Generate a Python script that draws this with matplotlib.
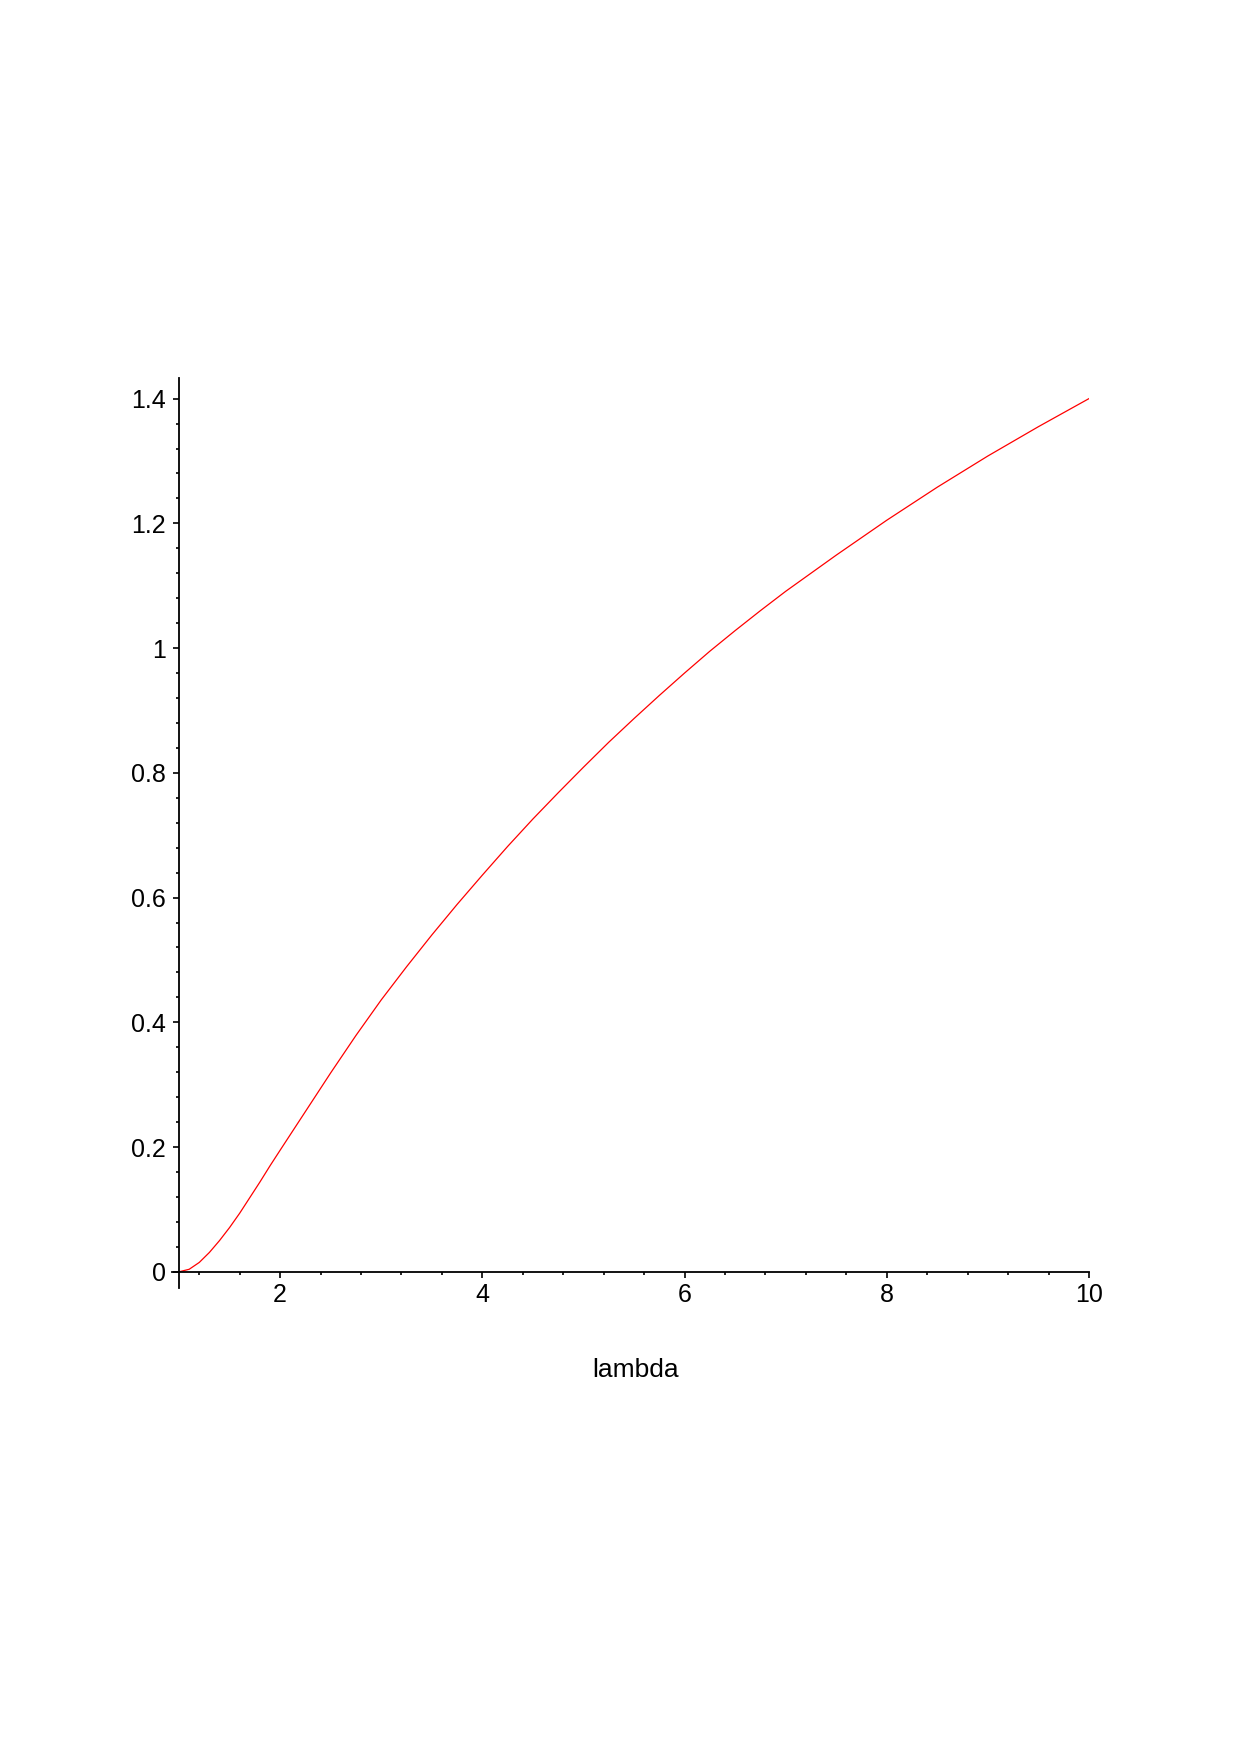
import numpy as np
import matplotlib.pyplot as plt
from matplotlib.ticker import MultipleLocator, FixedLocator

plt.rcParams['font.family'] = ['Liberation Sans', 'DejaVu Sans']

## curve values
lam = [1.0, 1.1, 1.2, 1.3, 1.4, 1.5, 1.6, 1.7, 1.8, 1.9, 2.0,
       2.25, 2.5, 2.75, 3.0, 3.25, 3.5, 3.75, 4.0, 4.25, 4.5, 4.75,
       5.0, 5.25, 5.5, 5.75, 6.0, 6.25, 6.5, 6.75, 7.0, 7.5, 8.0,
       8.5, 9.0, 9.5, 10.0]
val = [0.0, 0.004, 0.015, 0.031, 0.050, 0.071, 0.094, 0.119, 0.144, 0.170, 0.195,
       0.257, 0.319, 0.379, 0.436, 0.489, 0.540, 0.589, 0.636, 0.682, 0.726, 0.768,
       0.809, 0.849, 0.887, 0.924, 0.960, 0.995, 1.028, 1.060, 1.091, 1.149, 1.205,
       1.258, 1.308, 1.355, 1.40]
xticks = [2, 4, 6, 8, 10]
yticks = [0, 0.2, 0.4, 0.6, 0.8, 1.0, 1.2, 1.4]
ylabels = ['0', '0.2', '0.4', '0.6', '0.8', '1', '1.2', '1.4']

fig = plt.figure(figsize=(12.4, 17.55), dpi=100)
ax = fig.add_axes([0.1387, 0.2661, 0.7395, 0.5185])

ax.plot(lam, val, color='#ff0000', lw=0.9)

ax.set_xlim(0.93, 10.0)
ax.set_ylim(-0.026, 1.433)

ax.spines['top'].set_visible(False)
ax.spines['right'].set_visible(False)
ax.spines['left'].set_position(('data', 1))
ax.spines['bottom'].set_position(('data', 0))
for s in ['left', 'bottom']:
    ax.spines[s].set_linewidth(1.3)
    ax.spines[s].set_color('black')

ax.xaxis.set_major_locator(FixedLocator(xticks))
ax.xaxis.set_minor_locator(MultipleLocator(0.4))
ax.yaxis.set_major_locator(FixedLocator(yticks))
ax.set_yticklabels(ylabels)
ax.yaxis.set_minor_locator(MultipleLocator(0.04))

ax.tick_params(axis='x', which='major', direction='out', length=4, width=1.2, labelsize=18, pad=4)
ax.tick_params(axis='x', which='minor', direction='out', length=2, width=1.2)
ax.tick_params(axis='y', which='major', direction='out', length=4.5, width=1.2, labelsize=18, pad=5)
ax.tick_params(axis='y', which='minor', direction='out', length=2, width=1.2)

ax.set_xlabel('lambda', fontsize=19)
ax.xaxis.set_label_coords(0.505, -0.077)

fig.savefig('out.png', dpi=100)
